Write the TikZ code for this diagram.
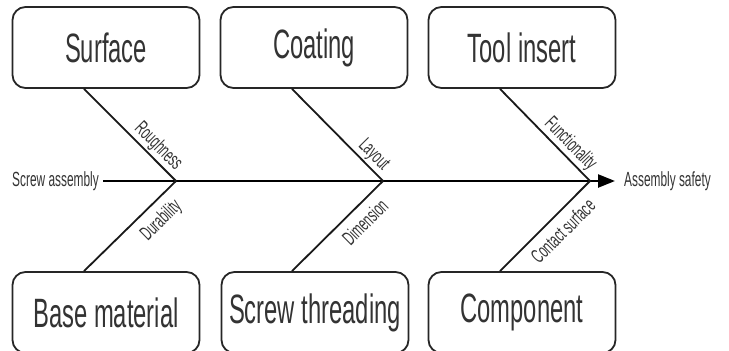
\documentclass[tikz,border=0pt]{standalone}
\usepackage{fontspec}
\setmainfont{Liberation Sans}[FakeStretch=0.58]
\usetikzlibrary{arrows.meta,calc}
\begin{document}
\begin{tikzpicture}[x=1pt,y=-1pt,
  cause/.style={draw=black!85, line width=1.8pt, rounded corners=13pt,
    minimum width=187pt, minimum height=81pt, inner sep=0pt,
    font=\fontsize{41}{45}\selectfont, text=black!80},
  bone/.style={draw=black!90, line width=1.8pt},
  spine/.style={draw=black, line width=2.4pt, -{Triangle[length=17pt,width=13pt]}},
  endlbl/.style={font=\fontsize{20.5}{23}\selectfont, text=black!80, inner sep=0pt},
  sub/.style={font=\fontsize{20}{22}\selectfont, text=black!80, sloped},
  upsub/.style={sub, inner sep=1.5pt, pos=0.96, anchor=south east},
  lowsub/.style={sub, inner sep=8pt, pos=0.96, anchor=north east}]
\useasboundingbox (0,0) rectangle (729,351);

% cause boxes, top row
\node[cause] (surf) at (106,47.5) {Surface};
\node[cause] (coat) at (314,47.5) {Coating};
\node[cause] (tool) at (522,47.5) {Tool insert};
% cause boxes, bottom row
\node[cause] (base) at (106,312.5) {Base material};
\node[cause] (thrd) at (315,312.5) {Screw threading};
\node[cause] (comp) at (522,312.5) {Component};

% spine
\node[endlbl, anchor=east] (src) at (99,181) {Screw assembly};
\node[endlbl, anchor=west] (dst) at (624,181) {Assembly safety};
\coordinate (j1) at (176,181);
\coordinate (j2) at (383,181);
\coordinate (j3) at (590,181);
\draw[spine, shorten <=4pt, shorten >=9pt] (src.east) -- (dst.west);

% upper bones
\draw[bone] ($(surf.south)+(-22,0)$) -- node[upsub] {Roughness} (j1);
\draw[bone] ($(coat.south)+(-22,0)$) -- node[upsub] {Layout} (j2);
\draw[bone] ($(tool.south)+(-22,0)$) -- node[upsub] {Functionality} (j3);
% lower bones
\draw[bone] ($(base.north)+(-22,0)$) -- node[lowsub] {Durability} (j1);
\draw[bone] ($(thrd.north)+(-23,0)$) -- node[lowsub] {Dimension} (j2);
\draw[bone] ($(comp.north)+(-22,0)$) -- node[lowsub] {Contact surface} (j3);
\end{tikzpicture}
\end{document}
